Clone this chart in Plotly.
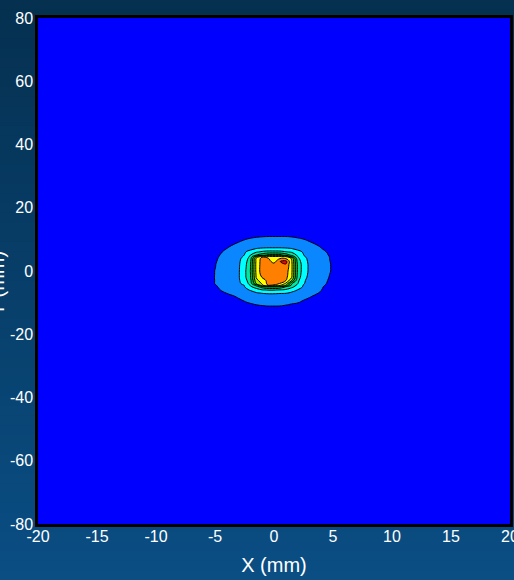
import plotly.graph_objects as go

# Grid coordinates (mm)
x_mm = [-20, -8, -6, -5, -4, -3, -2.5, -2, -1.5, -1, -0.5, 0, 0.5, 1, 1.5, 2, 2.5, 3, 4, 5, 6, 8, 20]
y_mm = [-80, -16, -12, -10, -8, -7, -6, -5, -4.5, -4, -3, -2, -1, 0, 1, 2, 3, 4, 4.5, 5, 6, 7, 8, 10, 12, 16, 80]

# Intensity values.
# Each row follows y_mm; inner lists give the values at x = -6 ... 6
# (the x = -20, -8, 8, 20 columns are zero).
z_inner = [
    [0] * 19,                                                                                                  # y=-80
    [0] * 19,                                                                                                  # y=-16
    [0, 0.0, 0.1, 0.35, 0.45, 0.55, 0.65, 0.72, 0.75, 0.75, 0.75, 0.7, 0.62, 0.55, 0.45, 0.35, 0.1, 0, 0],        # y=-12
    [0, 0.05, 0.35, 0.75, 0.92, 1.06, 1.18, 1.25, 1.3, 1.3, 1.28, 1.2, 1.1, 1.03, 0.85, 0.7, 0.35, 0.05, 0],      # y=-10
    [0, 0.3, 0.75, 1.12, 1.3, 1.42, 1.5, 1.55, 1.6, 1.6, 1.6, 1.55, 1.5, 1.4, 1.25, 1.08, 0.7, 0.3, 0],           # y=-8
    [0.1, 0.6, 1.02, 1.35, 1.55, 1.75, 1.9, 2.03, 2.1, 2.1, 2.05, 2.03, 1.85, 1.7, 1.5, 1.3, 0.9, 0.4, 0],        # y=-7
    [0.2, 0.8, 1.24, 1.64, 1.84, 2.05, 2.45, 2.95, 3.05, 3.05, 2.95, 2.8, 2.3, 1.97, 1.8, 1.5, 1.02, 0.5, 0],     # y=-6
    [0.25, 0.9, 1.33, 1.75, 1.96, 2.8, 3.57, 4.5, 5.05, 5.05, 4.8, 3.95, 3.29, 2.5, 1.89, 1.63, 1.1, 0.55, 0],    # y=-5
    [0.3, 0.95, 1.38, 1.79, 2.02, 3.1, 4.33, 6.83, 8.05, 7.9, 7.2, 6.05, 3.78, 2.73, 1.95, 1.69, 1.18, 0.6, 0],   # y=-4.5
    [0.35, 1.02, 1.42, 1.83, 2.25, 3.4, 6.05, 7.1, 8.3, 8.35, 7.95, 6.78, 4.05, 3.05, 2.05, 1.75, 1.25, 0.67, 0],   # y=-4
    [0.39, 1.02, 1.45, 1.87, 2.5, 3.67, 6.67, 7.6, 8.25, 8.45, 8.4, 8.05, 6.05, 3.29, 2.11, 1.77, 1.3, 0.75, 0.05],  # y=-3
    [0.39, 1.03, 1.46, 1.89, 2.71, 3.89, 7.09, 8.05, 8.4, 8.5, 8.5, 8.3, 7.05, 3.67, 2.25, 1.81, 1.33, 0.82, 0.07],  # y=-2
    [0.36, 1.02, 1.45, 1.89, 2.71, 3.95, 7.2, 8.4, 8.5, 8.5, 8.55, 8.45, 7.1, 3.8, 2.35, 1.84, 1.37, 0.86, 0.15],    # y=-1
    [0.33, 1.02, 1.44, 1.89, 2.71, 4.02, 7.29, 8.5, 8.55, 8.5, 8.6, 8.5, 7.18, 3.89, 2.44, 1.86, 1.4, 0.9, 0.21],    # y=0
    [0.3, 0.98, 1.43, 1.88, 2.64, 3.96, 7.3, 8.5, 8.45, 8.45, 8.7, 8.75, 7.18, 3.89, 2.44, 1.86, 1.4, 0.9, 0.21],    # y=1
    [0.28, 0.97, 1.42, 1.87, 2.57, 3.92, 7.31, 8.45, 8.35, 8.4, 8.8, 8.9, 7.18, 3.89, 2.44, 1.86, 1.4, 0.9, 0.21],   # y=2
    [0.25, 0.93, 1.4, 1.85, 2.43, 3.79, 7.26, 8.45, 8.4, 7.6, 8.98, 9.35, 7.1, 3.67, 2.33, 1.84, 1.37, 0.88, 0.2],   # y=3
    [0.2, 0.88, 1.36, 1.82, 2.25, 3.5, 7.17, 8.35, 8.05, 7.4, 7.9, 7.85, 6.9, 3.29, 2.2, 1.82, 1.36, 0.85, 0.2],     # y=4
    [0.18, 0.85, 1.33, 1.79, 2.11, 3.25, 6.05, 7.85, 7.6, 7.3, 7.4, 7.2, 5.05, 3.05, 2.09, 1.79, 1.33, 0.85, 0.18],  # y=4.5
    [0.15, 0.8, 1.29, 1.76, 2.02, 3.02, 4.05, 4.7, 5.3, 5.5, 5.4, 4.75, 3.8, 2.83, 2.02, 1.77, 1.3, 0.8, 0.15],      # y=5
    [0.1, 0.7, 1.19, 1.67, 1.9, 2.33, 2.9, 3.2, 3.4, 3.4, 3.35, 3.1, 2.9, 2.33, 1.9, 1.67, 1.2, 0.75, 0.1],          # y=6
    [0.05, 0.55, 1.02, 1.4, 1.6, 1.8, 2.05, 2.15, 2.2, 2.2, 2.2, 2.15, 2.05, 1.8, 1.6, 1.4, 1.04, 0.6, 0.05],        # y=7
    [0, 0.4, 0.85, 1.25, 1.4, 1.5, 1.55, 1.6, 1.6, 1.6, 1.6, 1.6, 1.55, 1.5, 1.4, 1.3, 0.9, 0.45, 0],                # y=8
    [0, 0.1, 0.4, 0.8, 0.97, 1.1, 1.18, 1.22, 1.25, 1.25, 1.25, 1.25, 1.2, 1.12, 1.02, 0.85, 0.45, 0.1, 0],          # y=10
    [0, 0, 0.1, 0.35, 0.45, 0.55, 0.62, 0.68, 0.7, 0.7, 0.7, 0.7, 0.68, 0.62, 0.55, 0.45, 0.15, 0, 0],               # y=12
    [0] * 19,                                                                                                  # y=16
    [0] * 19,                                                                                                  # y=80
]
z_rows = [[0, 0] + row + [0, 0] for row in z_inner]

x_ticks = [-20, -15, -10, -5, 0, 5, 10, 15, 20]
x_tick_text = ["-20", "-15", "-10", "-5", "0", "5", "10", "15", "20"]
y_ticks = [-80, -60, -40, -20, 0, 20, 40, 60, 80]
y_tick_text = ["-80", "-60", "-40", "-20", "0", "20", "40", "60", "80"]
x_title = "X (mm)"
y_title = "Y (mm)"

band_colors = ["#0000FF", "#0A86FF", "#00FFFF", "#00E6A0", "#00CC44",
               "#30C000", "#A0E600", "#FFFF00", "#FF8000", "#FF0000"]

# stepped colour scale over 0..10
cs = []
n = len(band_colors)
for i, c in enumerate(band_colors):
    cs.append([i / n, c])
    cs.append([(i + 1) / n, c])

fig = go.Figure(go.Contour(
    x=x_mm, y=y_mm, z=z_rows,
    zauto=False, zmin=0, zmax=10,
    colorscale=cs, showscale=False,
    contours=dict(start=1, end=9, size=1, coloring="fill"),
    line=dict(color="black", width=1, smoothing=1.3),
    hoverinfo="skip",
))

# vertical gradient background
W, H = 514, 580
ml, mr, mt, mb = 38, 4, 18, 56
pw, ph = W - ml - mr, H - mt - mb
top = (5, 48, 80)
bot = (10, 78, 132)
N = 60
shapes = []
for i in range(N):
    t = (i + 0.5) / N
    col = tuple(round(top[k] + (bot[k] - top[k]) * t) for k in range(3))
    y_top_px = i / N * H
    y_bot_px = (i + 1) / N * H + 1
    shapes.append(dict(
        type="rect", xref="paper", yref="paper", layer="below",
        x0=-ml / pw - 0.01, x1=1 + mr / pw + 0.01,
        y0=1 - (y_bot_px - mt) / ph, y1=1 - (y_top_px - mt) / ph,
        fillcolor="rgb(%d,%d,%d)" % col, line=dict(width=0),
    ))

font_fam = "Liberation Sans, Arial, sans-serif"

# y-axis title sits partly beyond the left edge of the figure, as in the original
y_title_px_x, y_title_px_y = -3, 284
annotations = [dict(
    text=y_title, xref="paper", yref="paper",
    x=(y_title_px_x - ml) / pw, y=1 - (y_title_px_y - mt) / ph,
    xanchor="center", yanchor="middle", textangle=-90, showarrow=False,
    font=dict(size=20, color="white", family=font_fam),
)]

fig.update_layout(
    width=W, height=H,
    margin=dict(l=ml, r=mr, t=mt, b=mb),
    paper_bgcolor="rgb(8,63,106)",
    plot_bgcolor="#0000FF",
    shapes=shapes,
    annotations=annotations,
    showlegend=False,
    font=dict(family=font_fam, color="white"),
    xaxis=dict(
        range=[-20, 20], tickvals=x_ticks, ticktext=x_tick_text,
        showgrid=False, zeroline=False, ticks="",
        showline=True, mirror=True, linecolor="black", linewidth=2.5,
        tickfont=dict(size=16, color="white", family=font_fam),
        ticklabelstandoff=-4, ticklabeloverflow="allow",
        title=dict(text=x_title, font=dict(size=20, color="white", family=font_fam), standoff=15),
        automargin=False,
    ),
    yaxis=dict(
        range=[-80, 80], tickvals=y_ticks, ticktext=y_tick_text,
        showgrid=False, zeroline=False, ticks="",
        showline=True, mirror=True, linecolor="black", linewidth=2.5,
        tickfont=dict(size=16, color="white", family=font_fam),
        ticklabelstandoff=-1, ticklabeloverflow="allow",
        automargin=False,
    ),
)

fig.write_html(
    "out.html",
    config={"displayModeBar": False},
    post_script="document.body.style.margin='0px';document.body.style.overflow='hidden';",
)
